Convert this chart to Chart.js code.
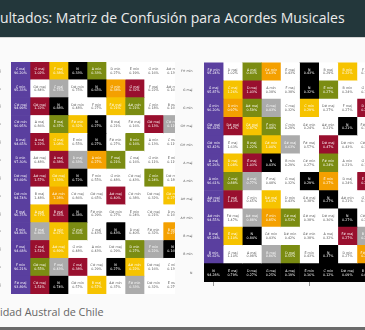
<!DOCTYPE html>
<html><head><meta charset="utf-8">
<script src="https://cdn.jsdelivr.net/npm/chart.js@4"></script>
<style>
html,body{margin:0;padding:0;}
body{width:365px;height:330px;overflow:hidden;background:#fafafa;position:relative;font-family:"Open Sans",sans-serif;}
#title{position:absolute;left:0;top:0;width:365px;height:37px;background:#23373b;border-bottom:1px solid #d4d4d4;}
#title span{position:absolute;left:0;top:10px;line-height:15px;color:#ececec;font-size:14px;white-space:nowrap;}
#footer{position:absolute;left:0;top:306px;line-height:11px;font-size:10.8px;color:#666;white-space:nowrap;}
#bottomline{position:absolute;left:0;top:327px;width:365px;height:3px;background:#6a6a6a;}
#leftClip{position:absolute;left:0;top:0;width:175px;height:330px;overflow:hidden;}
#leftBox{position:absolute;left:-19px;top:58px;width:201px;height:244px;}
#rightBox{position:absolute;left:174px;top:57px;width:202px;height:233px;}
</style></head>
<body>
<div id="title"><span>ultados: Matriz de Confusión para Acordes Musicales</span></div>
<div id="leftClip"><div id="leftBox"><canvas id="left"></canvas></div></div>
<div id="rightBox"><canvas id="right"></canvas></div>
<div id="footer">idad Austral de Chile</div>
<div id="bottomline"></div>
<script>
const leftRows = ['C maj','C min','C# maj','C# min','D maj','D min','D# maj','D# min','E maj','E min','F maj','F min','F# maj'];
const rightRows = ['F# min','G maj','G min','G# maj','G# min','A maj','A min','A# maj','A# min','B maj','B min','N'];

const leftPred = [
 ['C maj','G maj','F maj','N','A min','D min','E min','G min','A# maj'],
 ['C min','G# maj','C maj','D# min','N','G min','G maj','F maj','A# maj'],
 ['C# maj','G# maj','N','D# min','F min','F# maj','A# min','C min','B maj'],
 ['C# min','A maj','E maj','F# min','N','B maj','F# maj','G# maj','C# maj'],
 ['D maj','A maj','G maj','E min','N','F# min','B min','A min','C maj'],
 ['D min','A# maj','A maj','D maj','A min','F maj','C maj','G min','E min'],
 ['D# maj','A# maj','G# maj','N','F min','G min','C# maj','C min','D# min'],
 ['D# min','B maj','A# min','C# maj','G# maj','A# maj','C# min','D# maj','G# min'],
 ['E maj','A maj','B maj','N','F# min','G# min','E min','C# maj','D maj'],
 ['E min','E maj','A min','G maj','C maj','N','D maj','F# min','B min'],
 ['F maj','C maj','A# maj','G min','A min','D# maj','D min','F min','N'],
 ['F min','G# maj','F maj','C maj','C# maj','N','A# min','D# maj','C min'],
 ['F# maj','C# maj','N','G# min','B maj','A# min','F# min','D# min','E maj']
];
const leftPct = [
 [96.20,1.02,0.38,0.33,0.33,0.27,0.19,0.16,0.13],
 [95.33,0.84,0.75,0.75,0.65,0.38,0.32,0.22,0.16],
 [94.99,1.22,0.88,0.48,0.27,0.21,0.21,0.18,0.16],
 [96.95,0.86,0.37,0.32,0.27,0.21,0.16,0.13,0.11],
 [94.65,1.22,1.08,0.55,0.27,0.27,0.16,0.13,0.11],
 [97.30,0.48,0.38,0.33,0.27,0.21,0.16,0.11,0.11],
 [93.69,1.57,1.33,0.72,0.55,0.48,0.43,0.24,0.18],
 [94.74,1.48,1.28,0.86,0.65,0.40,0.38,0.32,0.27],
 [96.75,0.77,0.55,0.38,0.29,0.27,0.24,0.21,0.16],
 [94.86,0.86,0.67,0.56,0.43,0.43,0.40,0.32,0.27],
 [94.68,1.51,0.89,0.48,0.43,0.29,0.27,0.22,0.16],
 [96.21,0.55,0.43,0.38,0.29,0.27,0.22,0.16,0.13],
 [93.89,1.51,0.74,0.57,0.57,0.37,0.33,0.32,0.27]
];
const leftKind = ['PRYKGWWWW','PWSWKORWW','PRKWWYGWW','PWGYKWWRS','PRYWKWGWW','PWRSOGWWW','PRYKWWWGW','PWOWWRWWY','PYRKWWWWW','PSYGWKWWO','PRYWWWGSK','PGSRWKYWW','PRKWYWSWW'];

const rightPred = [
 ['F# min','D maj','A maj','C# min','E maj','N','B maj','B min','F maj'],
 ['G maj','C maj','D maj','A min','F maj','N','E min','B min','G min'],
 ['G min','D min','A# maj','G maj','C maj','C min','D# maj','F maj','D maj'],
 ['G# maj','D# maj','C# maj','F min','C min','G# min','A# min','N','F# maj'],
 ['G# min','E maj','B maj','C# min','G# maj','F# maj','D# maj','D# min','C# maj'],
 ['A maj','D maj','E maj','N','B min','C# min','F# min','A min','G maj'],
 ['A min','C maj','A maj','F maj','G maj','N','E min','D maj','E maj'],
 ['A# maj','F maj','C min','D# maj','D min','G# maj','N','A# min','G min'],
 ['A# min','F# maj','A# maj','F min','C# maj','G# maj','D# maj','N','C# min'],
 ['B maj','E maj','N','C# min','D# min','G# min','A maj','F# maj','B min'],
 ['B min','G maj','A maj','B maj','D maj','E min','N','D min','F# min'],
 ['N','E maj','D maj','G maj','A maj','E min','C min','D# maj','B maj']
];
const rightPct = [
 [95.24,1.02,0.83,0.63,0.43,0.43,0.29,0.22,0.16],
 [95.87,1.26,1.03,0.38,0.38,0.32,0.27,0.24,0.16],
 [96.20,0.97,0.59,0.43,0.32,0.29,0.27,0.27,0.21],
 [96.32,1.47,0.87,0.48,0.29,0.24,0.21,0.21,0.16],
 [92.42,1.63,1.22,1.00,0.63,0.57,0.47,0.43,0.32],
 [95.26,1.08,1.03,0.43,0.29,0.27,0.24,0.21,0.16],
 [96.61,0.88,0.77,0.48,0.32,0.29,0.27,0.24,0.21],
 [95.34,1.43,0.65,0.63,0.43,0.38,0.27,0.21,0.16],
 [94.55,1.47,0.88,0.85,0.53,0.38,0.36,0.27,0.21],
 [95.28,1.10,0.84,0.43,0.42,0.38,0.32,0.27,0.22],
 [95.62,1.10,0.98,0.86,0.55,0.43,0.37,0.27,0.21],
 [94.28,0.79,0.27,0.25,0.19,0.16,0.12,0.09,0.05]
];
const rightKind = ['PWGOWKWYW','PYRWWKGWW','POGSWYWWR','PRYGWWWKW','PWGYSWRWW','PYRKWWGWW','PGSWWKOWR','PRWYWWKWW','PWSOGWWKW','PYKWWWWRS','PWWSGWKWO','KKKKKKKKK'];

const palette = {P:'#5a3f9f',R:'#990f2e',Y:'#f6c300',O:'#f4a000',G:'#7b8c12',S:'#ababab',K:'#000000',W:'#ffffff'};
const textCol = {P:'#ffffff',R:'#ffffff',Y:'#ffffff',O:'#ffffff',G:'#ffffff',S:'#ffffff',K:'#ffffff',W:'#555555'};
const NCOLS = 9;

function cellPlugin(pred, pct, kind) {
  return {
    id: 'cellText',
    afterDatasetsDraw(chart) {
      const ctx = chart.ctx;
      ctx.save();
      ctx.font = '3.3px "DejaVu Sans"';
      ctx.textAlign = 'center';
      ctx.textBaseline = 'middle';
      chart.data.datasets.forEach((ds, c) => {
        const meta = chart.getDatasetMeta(c);
        meta.data.forEach((el, r) => {
          const cx = (el.x + el.base) / 2;
          const cy = el.y;
          ctx.fillStyle = textCol[kind[r][c]];
          ctx.fillText(pred[r][c], cx, cy - 1.8);
          ctx.fillText(pct[r][c].toFixed(2) + '%', cx, cy + 1.9);
        });
      });
      ctx.restore();
    }
  };
}

function makeChart(id, rows, pred, pct, kind, showX, pad) {
  const datasets = [];
  for (let c = 0; c < NCOLS; c++) {
    datasets.push({
      data: rows.map(() => 1),
      backgroundColor: rows.map((_, r) => palette[kind[r][c]]),
      borderWidth: 0,
      barPercentage: 1,
      categoryPercentage: 1
    });
  }
  new Chart(document.getElementById(id), {
    type: 'bar',
    data: { labels: rows, datasets },
    options: {
      indexAxis: 'y',
      responsive: true,
      maintainAspectRatio: false,
      animation: false,
      layout: { padding: 0 },
      plugins: { legend: { display: false }, tooltip: { enabled: false } },
      scales: {
        x: {
          stacked: true, min: 0, max: NCOLS, display: showX,
          ticks: { display: false },
          grid: { display: true, drawOnChartArea: false, drawTicks: true, tickLength: 4, color: '#9a9a9a' },
          border: { display: false },
          afterBuildTicks: s => { s.ticks = [{ value: 0.5 }, { value: 5.5 }]; },
          afterFit: s => { s.height = 8; }
        },
        y: {
          stacked: true,
          grid: { display: false },
          border: { display: false },
          ticks: { autoSkip: false, padding: pad, color: '#555', font: { size: 3.2, family: 'DejaVu Sans' } },
          afterFit: s => { s.width = 30; }
        }
      }
    },
    plugins: [cellPlugin(pred, pct, kind)]
  });
}

makeChart('left', leftRows, leftPred, leftPct, leftKind, false, 2);
makeChart('right', rightRows, rightPred, rightPct, rightKind, true, 3.5);
</script>
</body></html>
